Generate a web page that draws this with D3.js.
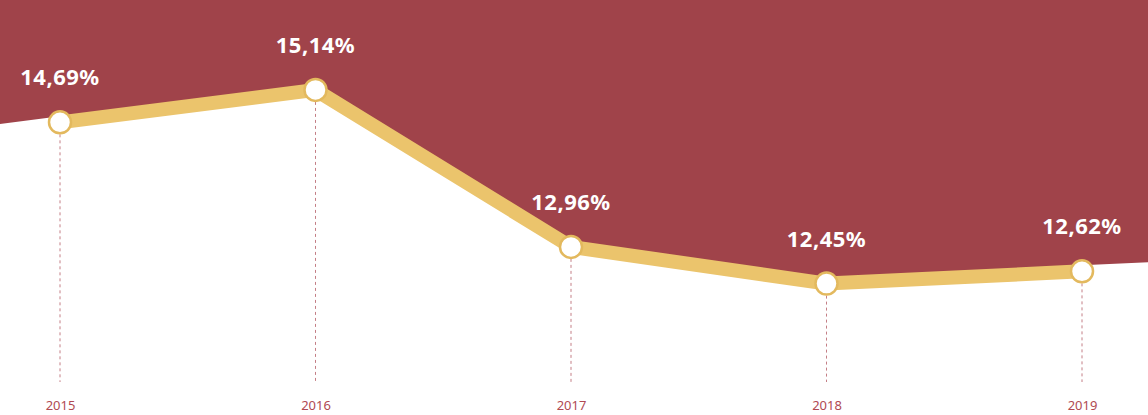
<!DOCTYPE html>
<html>
<head>
<meta charset="utf-8">
<script src="https://cdn.jsdelivr.net/npm/d3@7"></script>
<style>
  body { margin: 0; background: #fff; }
  #chart { width: 1148px; height: 415px; }
</style>
</head>
<body>
<div id="chart"></div>
<script>
// data
var years = ["2015", "2016", "2017", "2018", "2019"];
var rates = [14.69, 15.14, 12.96, 12.45, 12.62];
var labels = ["14,69%", "15,14%", "12,96%", "12,45%", "12,62%"];

var width = 1148, height = 415;

var svg = d3.select("#chart")
  .append("svg")
    .attr("width", width)
    .attr("height", height);

var data = years.map(function(y, i) { return { year: y, rate: rates[i], label: labels[i] }; });

// x: one slot per year
var x = d3.scalePoint()
  .domain(years)
  .range([60, 1082]);

// y: linear
var y = d3.scaleLinear()
  .domain([12, 16])
  .range([316, 28]);

// extend the first and last segment to the page edges for the red band
function extend(a, b, xEdge) {
  var x0 = x(a.year), y0 = y(a.rate), x1 = x(b.year), y1 = y(b.rate);
  return y0 + (y1 - y0) * (xEdge - x0) / (x1 - x0);
}
var n = data.length;
var edgeL = extend(data[0], data[1], 0);
var edgeR = extend(data[n - 2], data[n - 1], width);

var areaPts = [[0, edgeL - 6]]
  .concat(data.map(function(d) { return [x(d.year), y(d.rate) - 6]; }))
  .concat([[width, edgeR - 6]]);

svg.append("path")
  .datum(areaPts)
  .attr("fill", "#a0434a")
  .attr("d", d3.area()
    .x(function(d) { return d[0]; })
    .y0(0)
    .y1(function(d) { return d[1]; }));

// dashed drop lines
svg.selectAll(".drop")
  .data(data)
  .enter().append("line")
    .attr("x1", function(d) { return x(d.year); })
    .attr("x2", function(d) { return x(d.year); })
    .attr("y1", function(d) { return y(d.rate); })
    .attr("y2", 382)
    .attr("stroke", "#c47f86")
    .attr("stroke-width", 1)
    .attr("stroke-dasharray", "3,3");

// the yellow line
svg.append("path")
  .datum(data)
  .attr("fill", "none")
  .attr("stroke", "#ebc46c")
  .attr("stroke-width", 14)
  .attr("stroke-linejoin", "round")
  .attr("d", d3.line()
    .x(function(d) { return x(d.year); })
    .y(function(d) { return y(d.rate); }));

// points
svg.selectAll(".pt")
  .data(data)
  .enter().append("circle")
    .attr("cx", function(d) { return x(d.year); })
    .attr("cy", function(d) { return y(d.rate); })
    .attr("r", 11)
    .attr("fill", "#fff")
    .attr("stroke", "#e3b95e")
    .attr("stroke-width", 2.5);

// value labels
svg.selectAll(".val")
  .data(data)
  .enter().append("text")
    .attr("x", function(d) { return x(d.year); })
    .attr("y", function(d) { return y(d.rate) - 37; })
    .attr("text-anchor", "middle")
    .attr("fill", "#fff")
    .style("font-family", "'Noto Sans', sans-serif")
    .style("font-weight", "bold")
    .style("font-size", "22px")
    .style("letter-spacing", "0.5px")
    .text(function(d) { return d.label; });

// year axis
var xAxis = svg.append("g")
  .attr("transform", "translate(0,401)")
  .call(d3.axisBottom(x).tickSize(0).tickPadding(0));
xAxis.select(".domain").remove();
xAxis.selectAll("text")
  .attr("fill", "#b04a52")
  .style("font-family", "'Noto Sans', sans-serif")
  .style("font-size", "13px");
</script>
</body>
</html>
